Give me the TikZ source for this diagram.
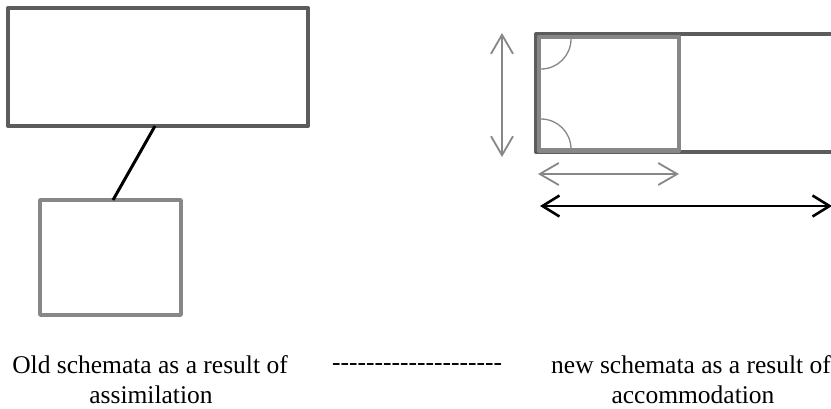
\documentclass[tikz,border=0pt]{standalone}
\usepackage{fontspec}
\setmainfont{Liberation Serif}
\usetikzlibrary{arrows.meta}
\definecolor{darkg}{HTML}{5C5C5C}
\definecolor{midg}{HTML}{878787}
\newcommand{\hy}{\mbox{-}}
\begin{document}
\begin{tikzpicture}[x=1pt,y=-1pt,
  box/.style={draw,rectangle,inner sep=0pt,outer sep=0pt,line join=round,fill=none},
  oldbox/.style={box,draw=darkg,line width=4pt},
  newbox/.style={box,draw=midg,line width=4pt},
  lbl/.style={font=\fontsize{25.5}{30}\selectfont,inner sep=0pt,anchor=base},
  garrow/.style={draw=midg,line width=1.8pt,{Straight Barb[length=19pt,width=22pt]}-{Straight Barb[length=19pt,width=22pt]}},
  barrow/.style={draw=black,line width=2.6pt,{Straight Barb[length=17pt,width=21pt]}-{Straight Barb[length=17pt,width=21pt]}},
  arcline/.style={draw=midg,line width=1.3pt}
]
\useasboundingbox (0,0) rectangle (831,408);
\clip (0,0) rectangle (831,408);
% left: assimilation
\node[oldbox,minimum width=300pt,minimum height=118pt] (big) at (158,67) {};
\node[box,draw=midg,line width=3.6pt,minimum width=141pt,minimum height=115pt] (small) at (110.5,257.5) {};
\coordinate (c1) at (155,126);
\coordinate (c2) at (113,200);
\draw[line width=3pt] (c1) -- (c2);
% right: accommodation
\node[oldbox,minimum width=400pt,minimum height=118pt] (wide) at (736,93) {};
\node[newbox,line width=4.3pt,minimum width=140pt,minimum height=113.5pt] (sq) at (609,93.75) {};
\coordinate (a1) at (541,69);
\coordinate (a2) at (541,119);
\draw[arcline] (a1) arc[start angle=90,end angle=0,radius=30];
\draw[arcline] (a2) arc[start angle=-90,end angle=0,radius=30];
\coordinate (v1) at (502,33);
\coordinate (v2) at (502,157);
\draw[garrow] (v1) -- (v2);
\coordinate (h1) at (538,174);
\coordinate (h2) at (679,174);
\draw[garrow] (h1) -- (h2);
\coordinate (k1) at (540,206);
\coordinate (k2) at (832,206);
\draw[barrow] (k1) -- (k2);
% labels
\node[lbl] (l1) at (150,373) {Old schemata as a result of};
\node[lbl] (l2) at (151,403) {assimilation};
\node[lbl,anchor=base west] (d) at (332,370.5) {\hy\hy\hy\hy\hy\hy\hy\hy\hy\hy\hy\hy\hy\hy\hy\hy\hy\hy\hy\hy};
\node[lbl,anchor=base west] (r1) at (551,373) {new schemata as a result of};
\node[lbl] (r2) at (693,403) {accommodation};
\end{tikzpicture}
\end{document}
